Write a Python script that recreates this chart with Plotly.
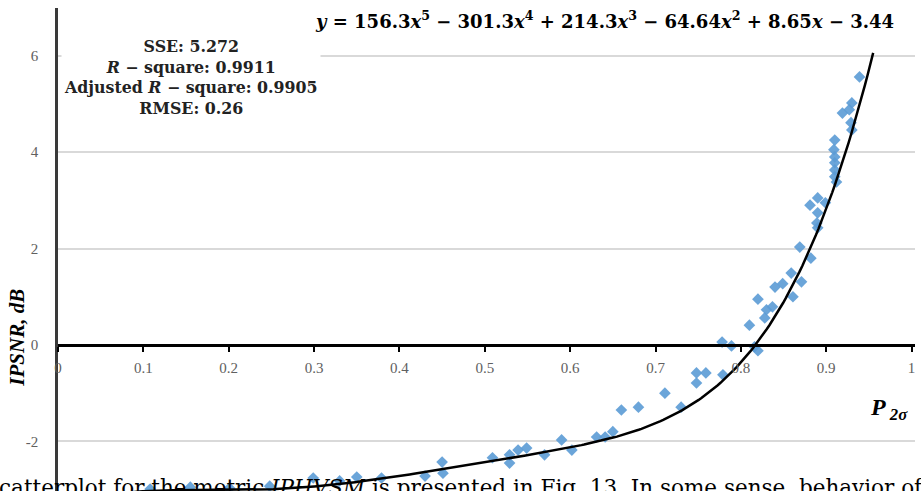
import numpy as np
import plotly.graph_objects as go

# Scatter data (P_2sigma, IPSNR dB)
p2s = [0.108, 0.155, 0.201, 0.248, 0.299, 0.330, 0.350, 0.379, 0.430, 0.450,
       0.451, 0.509, 0.529, 0.529, 0.539, 0.549, 0.570, 0.590, 0.602, 0.631,
       0.641, 0.650, 0.660, 0.680, 0.711, 0.730, 0.748, 0.748, 0.759, 0.779,
       0.778, 0.789, 0.816, 0.820, 0.810, 0.820, 0.828, 0.830, 0.837, 0.840,
       0.849, 0.859, 0.861, 0.871, 0.869, 0.882, 0.881, 0.890, 0.890, 0.889,
       0.890, 0.899, 0.910, 0.909, 0.910, 0.910, 0.910, 0.910, 0.912, 0.919,
       0.930, 0.927, 0.929, 0.930, 0.939]
ipsnr = [-2.99, -2.95, -2.97, -2.93, -2.76, -2.82, -2.74, -2.76, -2.72, -2.43,
         -2.66, -2.34, -2.28, -2.45, -2.18, -2.14, -2.28, -1.97, -2.18, -1.91,
         -1.91, -1.80, -1.35, -1.29, -1.00, -1.29, -0.79, -0.58, -0.58, -0.62,
         0.06, -0.02, -0.04, -0.12, 0.41, 0.95, 0.56, 0.73, 0.79, 1.20,
         1.27, 1.49, 1.00, 1.31, 2.03, 1.80, 2.90, 3.05, 2.74, 2.53,
         2.43, 2.95, 4.25, 4.05, 3.90, 3.78, 3.63, 3.49, 3.38, 4.81,
         5.02, 4.88, 4.61, 4.46, 5.56]

# Fitted polynomial coefficients shown on the chart (highest power first)
fit_coeffs = [156.3, -301.3, 214.3, -64.64, 8.65, -3.44]
fit_x_start, fit_x_end = 0.0, 0.955

x_tickvals = [0, 0.1, 0.2, 0.3, 0.4, 0.5, 0.6, 0.7, 0.8, 0.9, 1]
x_ticktext = ["0", "0.1", "0.2", "0.3", "0.4", "0.5", "0.6", "0.7", "0.8", "0.9", "1"]
y_tickvals = [-2, 0, 2, 4, 6]
y_ticktext = ["-2", "0", "2", "4", "6"]

fx = np.linspace(fit_x_start, fit_x_end, 300)
fy = np.polyval(fit_coeffs, fx)

serif = "Liberation Serif"
wide_serif = "DejaVu Serif"

fig = go.Figure()
fig.add_trace(go.Scatter(
    x=p2s, y=ipsnr, mode="markers",
    marker=dict(symbol="diamond", size=9, color="#5b9bd5", opacity=0.9,
                line=dict(width=0)),
    showlegend=False, cliponaxis=True))
fig.add_trace(go.Scatter(
    x=fx, y=fy, mode="lines", line=dict(color="black", width=2.5),
    showlegend=False))

y_lo, y_hi = -3.03, 6.99
fig.update_layout(
    width=921, height=491,
    margin=dict(l=58, r=6, t=8, b=0),
    paper_bgcolor="white", plot_bgcolor="white",
    xaxis=dict(range=[0, 1.004], anchor="free", position=(0 - y_lo) / (y_hi - y_lo),
               showline=True, linecolor="black", linewidth=2.5,
               ticks="outside", ticklen=5, tickwidth=2, tickcolor="black",
               tickvals=x_tickvals, ticktext=x_ticktext,
               tickfont=dict(family=serif, size=15, color="#606060"),
               ticklabelstandoff=3,
               showgrid=False, zeroline=False),
    yaxis=dict(range=[y_lo, y_hi], showline=True, linecolor="#3a3a3a", linewidth=2.5,
               tickvals=y_tickvals, ticktext=y_ticktext, ticks="",
               tickfont=dict(family=serif, size=15, color="#606060"),
               ticklabelstandoff=14,
               showgrid=True, gridcolor="#d9d9d9", gridwidth=2, zeroline=False),
)

fig.add_annotation(
    xref="paper", yref="paper", x=0.638, y=(491 - 20) / 483,
    text="<b><i>y</i> = 156.3<i>x</i><sup>5</sup> − 301.3<i>x</i><sup>4</sup> + 214.3<i>x</i><sup>3</sup>"
         " − 64.64<i>x</i><sup>2</sup> + 8.65<i>x</i> − 3.44</b>",
    showarrow=False, font=dict(family=wide_serif, size=18, color="black"),
    xanchor="center", yanchor="middle")

fig.add_annotation(
    xref="paper", yref="paper", x=0.155, y=(491 - 78) / 483,
    text="<b>SSE: 5.272<br><i>R</i> − square: 0.9911<br>Adjusted <i>R</i> − square: 0.9905<br>RMSE: 0.26</b>",
    showarrow=False, font=dict(family=wide_serif, size=15.8, color="#222222"),
    align="center", bgcolor="white", borderpad=2,
    xanchor="center", yanchor="middle")

fig.add_annotation(
    xref="paper", yref="y", x=0, y=0.15, xshift=-41,
    text="<b><i>IPSNR, dB</i></b>", textangle=-90, showarrow=False,
    font=dict(family=serif, size=21, color="black"),
    xanchor="center", yanchor="middle")

fig.add_annotation(
    xref="x", yref="y", x=0.974, y=-1.33,
    text="<b><i>P</i></b><sub><b><i> 2σ</i></b></sub>", showarrow=False,
    font=dict(family=serif, size=24, color="black"),
    xanchor="center", yanchor="middle")

fig.add_annotation(
    xref="paper", yref="paper", x=0, y=0, xshift=-72, yshift=-11,
    text="scatterplot for the metric <i>IPHVSM</i> is presented in Fig. 13. In some sense, behavior of",
    showarrow=False, font=dict(family=wide_serif, size=21.5, color="black"),
    xanchor="left", yanchor="bottom")

fig.write_html("out.html")
